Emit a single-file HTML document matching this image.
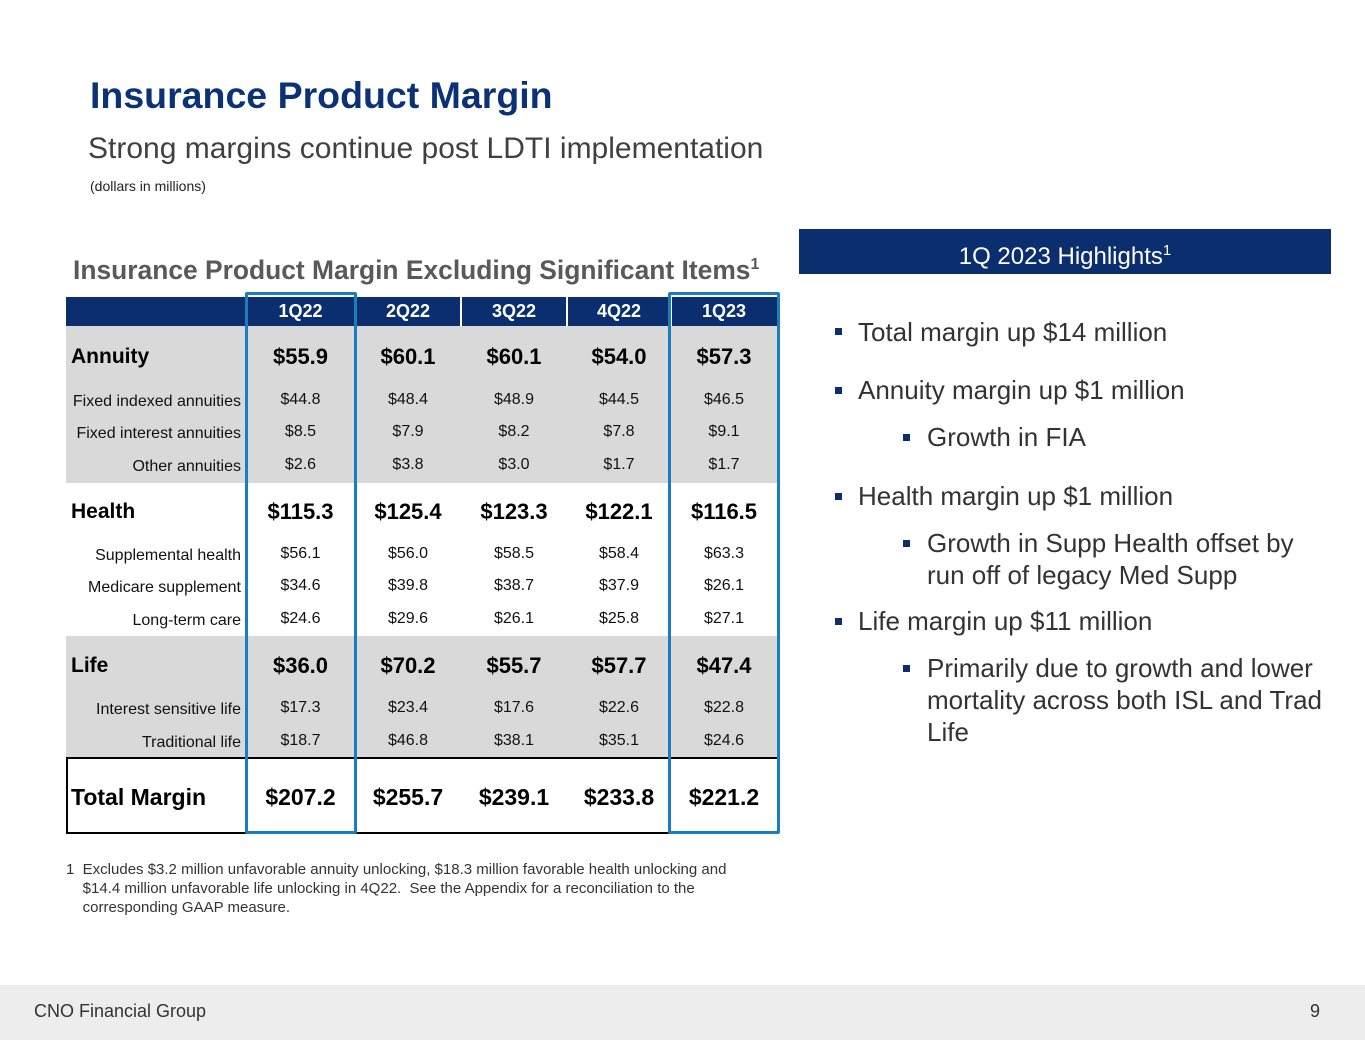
<!DOCTYPE html>
<html><head><meta charset="utf-8"><style>
html,body{margin:0;padding:0}
body{width:1365px;height:1055px;position:relative;background:#fff;font-family:"Liberation Sans",Arial,sans-serif;overflow:hidden}
.a{position:absolute;white-space:nowrap}
.c{text-align:center}
.r{text-align:right}
.hd{color:#fff;font-size:18px;line-height:29px;font-weight:bold}
.big{font-size:21px;font-weight:bold;color:#000;line-height:30px}
.sm{font-size:16px;color:#111;line-height:20px}
.bul{position:absolute;width:7px;height:7px;background:#0B2F6E}
.bt{position:absolute;font-size:26px;color:#333;line-height:32px;white-space:nowrap}
</style></head><body>
<div class="a" style="left:90px;top:73px;font-size:37.5px;font-weight:bold;color:#0B3276;line-height:44px">Insurance Product Margin</div>
<div class="a" style="left:88px;top:131px;font-size:30px;color:#404040;line-height:36px">Strong margins continue post LDTI implementation</div>
<div class="a" style="left:90px;top:177px;font-size:14px;color:#222;line-height:18px">(dollars in millions)</div>
<div class="a" style="left:73px;top:249px;font-size:26.4px;font-weight:bold;color:#595959;line-height:32px">Insurance Product Margin Excluding Significant Items<sup style="font-size:16px">1</sup></div>

<div class="a" style="left:66px;top:297px;width:711px;height:29px;background:#0B2F6E"></div>
<div class="a" style="left:66px;top:326px;width:711px;height:157px;background:#D9D9D9"></div>
<div class="a" style="left:66px;top:636px;width:711px;height:122px;background:#D9D9D9"></div>
<div class="a" style="left:66px;top:757px;width:711px;height:2px;background:#000"></div>
<div class="a" style="left:66px;top:832px;width:711px;height:2px;background:#000"></div>
<div class="a" style="left:66px;top:758px;width:2px;height:75px;background:#000"></div>
<div id="tbl"></div>
<div class="a" style="left:245px;top:292px;width:106px;height:536px;border:3px solid #1A7DBF;border-radius:2px"></div>
<div class="a" style="left:668px;top:292px;width:106px;height:536px;border:3px solid #1A7DBF;border-radius:2px"></div>

<div class="a" style="left:66px;top:860px;font-size:15px;color:#333;line-height:19px;white-space:normal;width:720px">1&nbsp; Excludes $3.2 million unfavorable annuity unlocking, $18.3 million favorable health unlocking and<br>&nbsp;&nbsp;&nbsp; $14.4 million unfavorable life unlocking in 4Q22.&nbsp; See the Appendix for a reconciliation to the<br>&nbsp;&nbsp;&nbsp; corresponding GAAP measure.</div>

<div class="a c" style="left:799px;top:229px;width:532px;height:45px;background:#0B2F6E;color:#fff;font-size:24px;line-height:44px">1Q 2023 Highlights<sup style="font-size:15px">1</sup></div>
<div>
<div class="bul" style="left:835px;top:328px"></div><div class="bt" style="left:858px;top:316px">Total margin up $14 million</div>
<div class="bul" style="left:835px;top:387px"></div><div class="bt" style="left:858px;top:374px">Annuity margin up $1 million</div>
<div class="bul" style="left:903px;top:434px"></div><div class="bt" style="left:927px;top:421px">Growth in FIA</div>
<div class="bul" style="left:835px;top:493px"></div><div class="bt" style="left:858px;top:480px">Health margin up $1 million</div>
<div class="bul" style="left:903px;top:540px"></div><div class="bt" style="left:927px;top:527px">Growth in Supp Health offset by</div>
<div class="bt" style="left:927px;top:559px">run off of legacy Med Supp</div>
<div class="bul" style="left:835px;top:618px"></div><div class="bt" style="left:858px;top:605px">Life margin up $11 million</div>
<div class="bul" style="left:903px;top:665px"></div><div class="bt" style="left:927px;top:652px">Primarily due to growth and lower</div>
<div class="bt" style="left:927px;top:684px">mortality across both ISL and Trad</div>
<div class="bt" style="left:927px;top:716px">Life</div>
</div>

<div class="a" style="left:0;top:985px;width:1365px;height:55px;background:#EDEDED"></div>
<div class="a" style="left:34px;top:1000px;font-size:18px;color:#333;line-height:22px">CNO Financial Group</div>
<div class="a" style="left:1310px;top:1000px;font-size:18px;color:#333;line-height:22px">9</div>

<script>
const periods=["1Q22","2Q22","3Q22","4Q22","1Q23"];
const rowLabels=["Annuity","Fixed indexed annuities","Fixed interest annuities","Other annuities","Health","Supplemental health","Medicare supplement","Long-term care","Life","Interest sensitive life","Traditional life","Total Margin"];
const rowKinds=["big","sm","sm","sm","big","sm","sm","sm","big","sm","sm","total"];
const rowY=[357,402,434,467,512,556,588,621,666,710,743,797];
const v1Q22=["$55.9","$44.8","$8.5","$2.6","$115.3","$56.1","$34.6","$24.6","$36.0","$17.3","$18.7","$207.2"];
const v2Q22=["$60.1","$48.4","$7.9","$3.8","$125.4","$56.0","$39.8","$29.6","$70.2","$23.4","$46.8","$255.7"];
const v3Q22=["$60.1","$48.9","$8.2","$3.0","$123.3","$58.5","$38.7","$26.1","$55.7","$17.6","$38.1","$239.1"];
const v4Q22=["$54.0","$44.5","$7.8","$1.7","$122.1","$58.4","$37.9","$25.8","$57.7","$22.6","$35.1","$233.8"];
const v1Q23=["$57.3","$46.5","$9.1","$1.7","$116.5","$63.3","$26.1","$27.1","$47.4","$22.8","$24.6","$221.2"];
const cols=[v1Q22,v2Q22,v3Q22,v4Q22,v1Q23];
const colX=[246,355,461,567,671,777];
const tbl=document.getElementById('tbl');
function mk(cls,style,txt){const d=document.createElement('div');d.className='a '+cls;d.style.cssText=style;d.textContent=txt;tbl.appendChild(d);return d;}
periods.forEach((p,i)=>{
  const d=mk('c hd','left:'+colX[i]+'px;top:297px;width:'+(colX[i+1]-colX[i])+'px',p);
  
  
  if(i>0){const s=mk('','left:'+(colX[i]-1)+'px;top:297px;width:2px;height:29px;background:#fff','');
    
    }
});
rowLabels.forEach((lab,r)=>{
  const k=rowKinds[r];
  let d;
  if(k==='sm'){d=mk('r sm','left:60px;width:181px;top:'+(rowY[r]-10)+'px',lab);}
  else if(k==='big'){d=mk('big','left:71px;top:'+(rowY[r]-15)+'px',lab);}
  else{d=mk('big','left:71px;top:'+(rowY[r]-16)+'px;font-size:23px;line-height:32px',lab);}
  
  
  cols.forEach((col,i)=>{
    const w=colX[i+1]-colX[i];
    let st='left:'+colX[i]+'px;width:'+w+'px;';
    let c;
    if(k==='sm'){c=mk('c sm',st+'top:'+(rowY[r]-12)+'px',col[r]);}
    else if(k==='big'){c=mk('c big',st+'top:'+(rowY[r]-15)+'px;font-size:22px',col[r]);}
    else{c=mk('c big',st+'top:'+(rowY[r]-16)+'px;font-size:23px;line-height:32px',col[r]);}
    
    
  });
});
</script>
</body></html>
